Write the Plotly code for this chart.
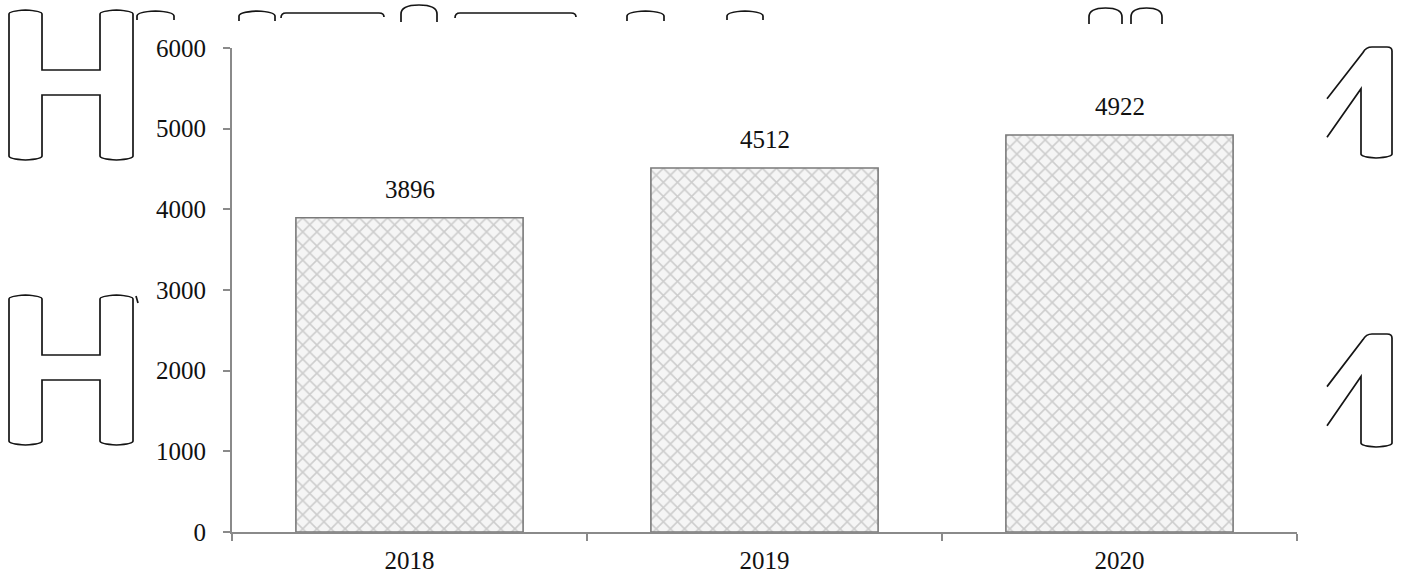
import plotly.graph_objects as go

# ---- data ----
years = ["2018", "2019", "2020"]
values = [3896, 4512, 4922]
y_ticks = [0, 1000, 2000, 3000, 4000, 5000, 6000]

# ---- page geometry (pixels) ----
W, H = 1405, 575
ML, MR, MT, MB = 232, 108, 48, 43
PW, PH = W - ML - MR, H - MT - MB

FONT = "Liberation Serif, Times New Roman, serif"
AXIS_GREY = "#8a8a8a"


def pt(x, y):
    """pixel position -> paper coordinates"""
    return f"{(x - ML) / PW:.5f},{(H - MB - y) / PH:.5f}"


def h_glyph(x0, y0, y1, yc0, yc1):
    a, b, c, d = x0, x0 + 33, x0 + 91, x0 + 124
    r = 3
    return (
        f"M{pt(a, y0 + r)} Q{pt(a, y0)} {pt(a + 16.5, y0 - 1)} Q{pt(b, y0)} {pt(b, y0 + r)} "
        f"L{pt(b, yc0)} L{pt(c, yc0)} L{pt(c, y0 + r)} "
        f"Q{pt(c, y0)} {pt(c + 16.5, y0 - 1)} Q{pt(d, y0)} {pt(d, y0 + r)} "
        f"L{pt(d, y1 - r)} Q{pt(d, y1)} {pt(d - 16.5, y1 + 1)} Q{pt(c, y1)} {pt(c, y1 - r)} "
        f"L{pt(c, yc1)} L{pt(b, yc1)} L{pt(b, y1 - r)} "
        f"Q{pt(b, y1)} {pt(b - 16.5, y1 + 1)} Q{pt(a, y1)} {pt(a, y1 - r)} Z"
    )


def one_glyph(top, bot):
    h = bot - top
    return (
        f"M{pt(1327, top + 0.47 * h)} L{pt(1363, top + 0.05 * h)} "
        f"Q{pt(1366, top)} {pt(1372, top)} L{pt(1387, top)} Q{pt(1392, top)} {pt(1392, top + 4)} "
        f"L{pt(1392, bot - 3)} Q{pt(1392, bot)} {pt(1376, bot + 1)} "
        f"Q{pt(1361, bot)} {pt(1361, bot - 3)} L{pt(1361, top + 0.38 * h)} "
        f"L{pt(1327, top + 0.82 * h)}"
    )


def cap_arc(x0, x1, ytop, ybot):
    m = (x0 + x1) / 2
    return (
        f"M{pt(x0, ybot)} L{pt(x0, ytop + 4)} Q{pt(x0, ytop)} {pt(m, ytop - 1)} "
        f"Q{pt(x1, ytop)} {pt(x1, ytop + 4)} L{pt(x1, ybot)}"
    )


def round_arc(x0, x1, ytop, ybot):
    m = (x0 + x1) / 2
    return (
        f"M{pt(x0, ybot)} L{pt(x0, ytop + 9)} Q{pt(x0, ytop)} {pt(m, ytop)} "
        f"Q{pt(x1, ytop)} {pt(x1, ytop + 9)} L{pt(x1, ybot)}"
    )


def bar_arc(x0, x1, y):
    return (
        f"M{pt(x0, y + 5)} Q{pt(x0, y)} {pt(x0 + 5, y)} L{pt(x1 - 5, y)} "
        f"Q{pt(x1, y)} {pt(x1, y + 4)}"
    )


outline_paths = [
    h_glyph(9, 11, 159, 70, 95),
    h_glyph(9, 296, 444, 355, 380),
    one_glyph(47, 157),
    one_glyph(334, 446),
    cap_arc(137, 174, 12, 20),
    cap_arc(239, 275, 12, 21),
    cap_arc(627, 664, 12, 21),
    cap_arc(727, 763, 12, 20),
    round_arc(401, 437, 5, 22),
    round_arc(1089, 1122, 8, 24),
    round_arc(1131, 1162, 8, 24),
    bar_arc(281, 384, 13),
    bar_arc(455, 576, 13),
    f"M{pt(136, 296)} L{pt(138, 303)}",
]

fig = go.Figure()

fig.add_trace(
    go.Bar(
        x=years,
        y=values,
        marker=dict(
            color="white",
            line=dict(color="#7a7a7a", width=1.6),
            pattern=dict(shape="x", fgcolor="#a6a6a6", bgcolor="#f5f5f5",
                         size=10, solidity=0.3),
        ),
        hoverinfo="skip",
    )
)

# value labels above each bar (category index on the x axis)
for i, v in enumerate(values):
    fig.add_annotation(
        x=i, y=v, text=str(v), showarrow=False, yanchor="bottom", yshift=13,
        font=dict(family=FONT, size=25, color="#111111"),
    )

shapes = [
    dict(type="path", xref="paper", yref="paper", path=p,
         line=dict(color="#151515", width=1.7), fillcolor="rgba(0,0,0,0)", layer="above")
    for p in outline_paths
]

fig.update_layout(
    width=W, height=H,
    margin=dict(l=ML, r=MR, t=MT, b=MB, autoexpand=False),
    paper_bgcolor="white", plot_bgcolor="white",
    bargap=0.36,
    showlegend=False,
    shapes=shapes,
    font=dict(family=FONT, size=25, color="#111111"),
    xaxis=dict(
        type="category", range=[-0.5, 2.5], automargin=False,
        categoryorder="array", categoryarray=years, tickangle=0,
        showline=True, linecolor=AXIS_GREY, linewidth=2,
        ticks="outside", tickson="boundaries", ticklen=7, tickcolor=AXIS_GREY, tickwidth=1.5,
        ticklabelstandoff=5,
        showgrid=False, zeroline=False,
        tickfont=dict(family=FONT, size=25, color="#111111"),
    ),
    yaxis=dict(
        range=[0, 6000], tickvals=y_ticks, automargin=False,
        showline=True, linecolor=AXIS_GREY, linewidth=2,
        ticks="outside", ticklen=7, tickcolor=AXIS_GREY, tickwidth=1.5,
        ticklabelstandoff=12,
        showgrid=False, zeroline=False,
        tickfont=dict(family=FONT, size=25, color="#111111"),
    ),
)

fig.write_html("out.html")
